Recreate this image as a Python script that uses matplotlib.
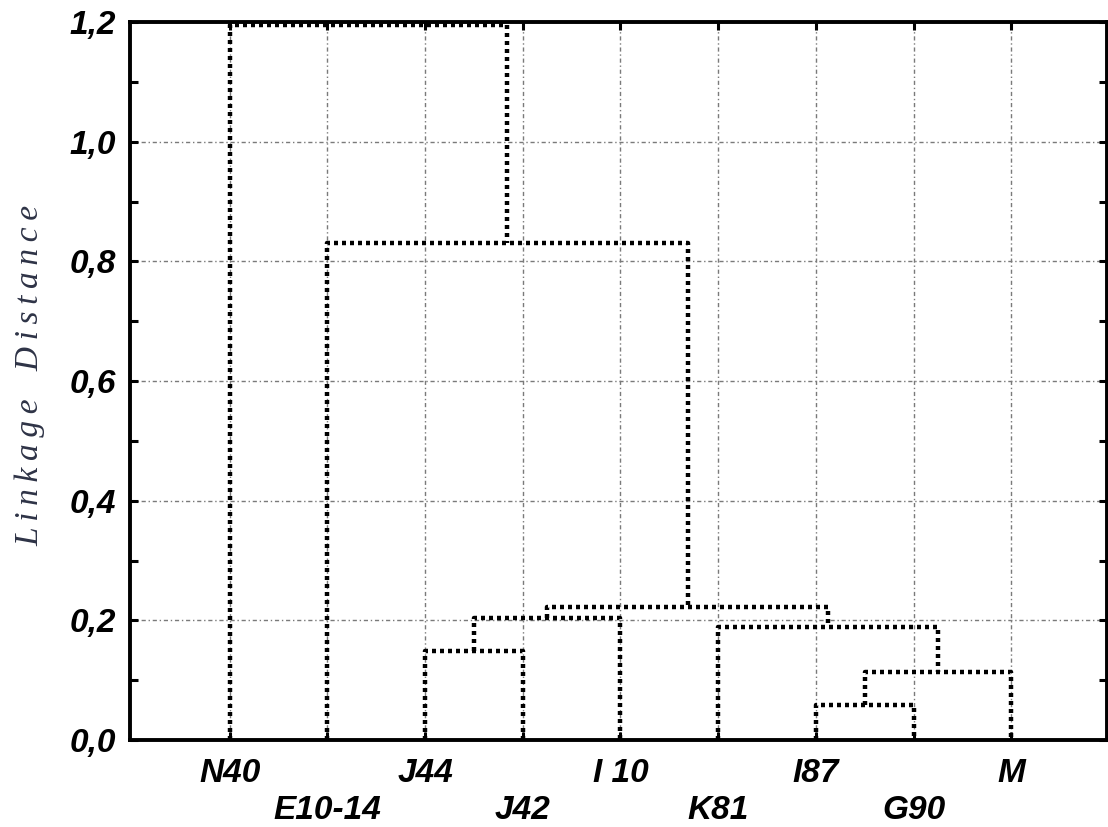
import numpy as np
import matplotlib.pyplot as plt
from matplotlib.ticker import MultipleLocator, FuncFormatter

# leaves in dendrogram order
leaves = ["N40", "E10-14", "J44", "J42", "I 10", "K81", "I87", "G90", "M"]

# merges: (left, right, linkage distance); ints are leaf indices, "cN" earlier clusters
merges = [
    (2, 3, 0.148),        # c0  J44 + J42
    (6, 7, 0.058),        # c1  I87 + G90
    ("c1", 8, 0.113),     # c2  + M
    ("c0", 4, 0.204),     # c3  + I 10
    (5, "c2", 0.189),     # c4  K81 + c2
    ("c3", "c4", 0.222),  # c5
    (1, "c5", 0.830),     # c6  E10-14 + c5
    (0, "c6", 1.195),     # c7  N40 + c6
]

INK = "#000000"
GRID = "#7a7a7a"

plt.rcParams.update({"font.family": ["Liberation Sans", "DejaVu Sans"]})

fig = plt.figure(figsize=(11.08, 8.27), dpi=100)
W = 1107 - 130
H = 740 - 22
ax = fig.add_axes([130 / 1108, 87 / 827, W / 1108, H / 827])

xpos = {i: i + 1.0 for i in range(len(leaves))}
ypos = {i: 0.0 for i in range(len(leaves))}
dash = (0, (0.9, 0.9))
for k, (a, b, h) in enumerate(merges):
    xa, ya = xpos[a], ypos[a]
    xb, yb = xpos[b], ypos[b]
    ax.plot([xa, xa, xb, xb], [ya, h, h, yb], color=INK, lw=3.2,
            linestyle=dash, dash_capstyle="butt", zorder=3)
    xpos[f"c{k}"] = (xa + xb) / 2
    ypos[f"c{k}"] = h

ax.set_xlim(-0.02, 9.98)
ax.set_ylim(0, 1.2)

xt = np.arange(1, len(leaves) + 1)
ax.set_xticks(xt)
ax.set_xticklabels([s if i % 2 == 0 else "\n" + s for i, s in enumerate(leaves)])
ax.yaxis.set_major_locator(MultipleLocator(0.2))
ax.yaxis.set_minor_locator(MultipleLocator(0.1))
ax.yaxis.set_major_formatter(FuncFormatter(lambda v, p: f"{v:.1f}".replace(".", ",")))

ax.tick_params(axis="both", which="both", direction="in", top=True, right=True,
               width=2.2, color=INK)
ax.tick_params(axis="both", which="major", length=6)
ax.tick_params(axis="y", which="minor", length=6)
ax.tick_params(axis="x", which="major", pad=13, labelsize=24)
ax.tick_params(axis="y", which="major", pad=10, labelsize=24)
for lab in ax.get_xticklabels() + ax.get_yticklabels():
    lab.set_fontweight("bold")
    lab.set_fontstyle("italic")
    lab.set_linespacing(1.25)

for s in ax.spines.values():
    s.set_linewidth(2.8)
    s.set_color(INK)

ax.grid(True, which="major", color=GRID, lw=1.0, linestyle=(0, (3, 2, 1, 2)))
ax.set_axisbelow(True)

# letter-spaced serif axis title (thin spaces between letters)
title = "\u2009\u2009 \u2009".join("\u2009".join(w) for w in "Linkage Distance".split())
ax.set_ylabel(title, family=["Liberation Serif", "DejaVu Serif"],
              style="italic", fontsize=24, color="#2e3346")
ax.yaxis.set_label_coords(-(130 - 45) / W, (740 - 375) / H)

fig.savefig("out.png", dpi=100, facecolor="white")
